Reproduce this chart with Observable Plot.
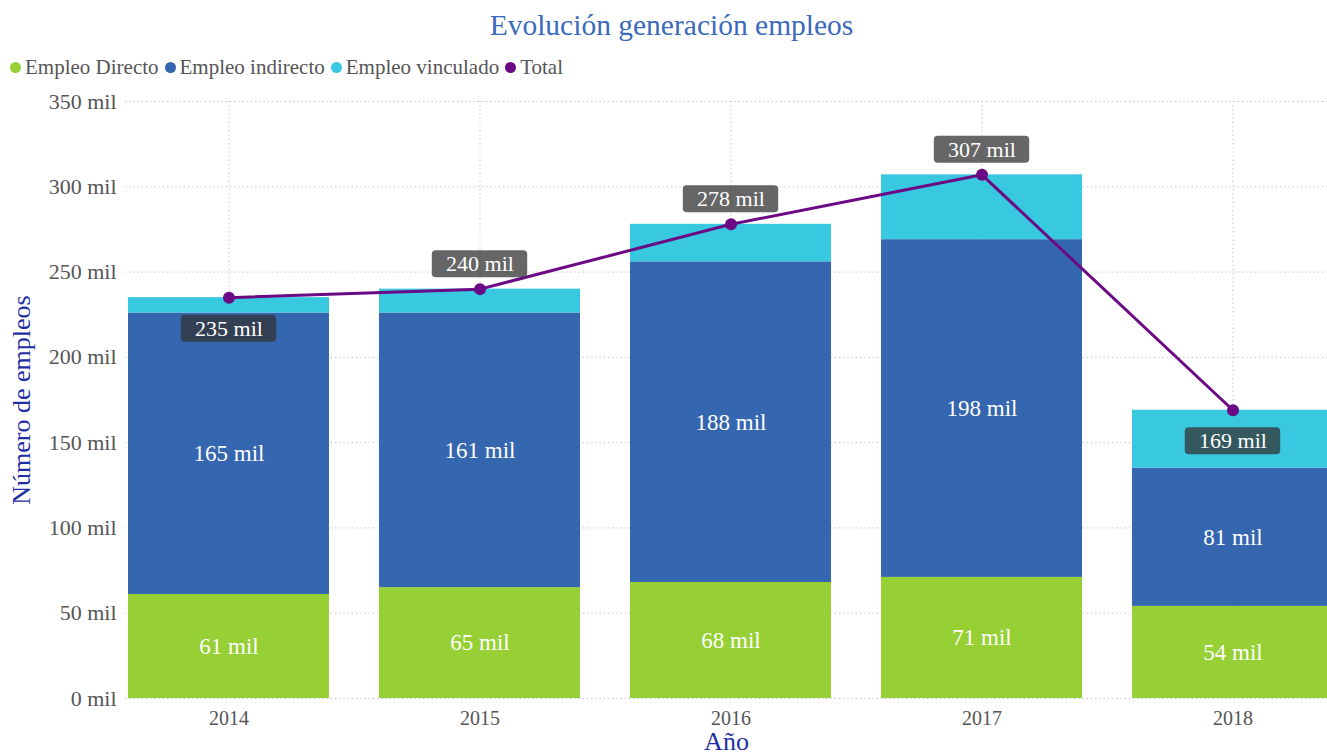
<!DOCTYPE html>
<html><head><meta charset="utf-8">
<script src="https://cdn.jsdelivr.net/npm/d3@7"></script>
<script src="https://cdn.jsdelivr.net/npm/@observablehq/plot@0.6"></script>
<style>
body{margin:0;width:1327px;height:755px;overflow:hidden;background:#fff;font-family:"Liberation Serif",serif;position:relative}
#title{position:absolute;top:9px;left:8px;width:1327px;text-align:center;font-size:29.5px;color:#3b6abb}
#legend{position:absolute;top:55px;left:10px;font-size:21px;color:#555;white-space:nowrap}
#legend span.item{margin-right:6px}
#legend span.dot{display:inline-block;width:11px;height:11px;border-radius:50%;margin-right:4px;vertical-align:1px}
#chart{position:absolute;top:85px;left:0}
#chart svg{max-width:none;overflow:hidden}
g[aria-label="y-axis label"] text, g[aria-label="x-axis label"] text{fill:#1f2fa3;font-size:26px}
</style>
</head><body>
<div id="title"></div>
<div id="legend"></div>
<div id="chart"></div>
<script>
const years = ["2014","2015","2016","2017","2018"];
const empleoDirecto = [61,65,68,71,54];
const empleoIndirecto = [165,161,188,198,81];
const empleoVinculado = [9,14,22,38,34];
const total = [235,240,278,307,169];
const seriesNames = ["Empleo Directo","Empleo indirecto","Empleo vinculado"];
const seriesColors = ["#96d035","#3566b0","#38c8e0"];
const totalName = "Total";
const totalColor = "#6b0a84";
const yTicks = [0,50,100,150,200,250,300,350];
const titleText = "Evolución generación empleos";
const xLabel = "Año";
const yLabel = "Número de empleos";

document.getElementById("title").textContent = titleText;
const leg = document.getElementById("legend");
[...seriesNames, totalName].forEach((n,i)=>{
  const c = i < seriesNames.length ? seriesColors[i] : totalColor;
  const s = document.createElement("span"); s.className="item";
  s.innerHTML = `<span class="dot" style="background:${c}"></span>${n}`;
  leg.appendChild(s);
});

const seriesValues = [empleoDirecto, empleoIndirecto, empleoVinculado];
const rows = [];
years.forEach((y,i)=>seriesNames.forEach((s,j)=>rows.push({year:y, serie:s, value:seriesValues[j][i]})));
const totRows = years.map((y,i)=>({year:y, total:total[i]}));
const below = new Set(["2014","2018"]);
const totAbove = totRows.filter(d=>!below.has(d.year));
const totBelow = totRows.filter(d=>below.has(d.year));

const bw = 252*0.8, boxW = 96;
const boxInset = (bw-boxW)/2;
function boxes(data, dy){
  return Plot.barY(data, {x:"year", y1:"total", y2:"total", insetLeft:boxInset, insetRight:boxInset,
    insetTop:-13.5, insetBottom:-13.5, dy, fill:"#333", fillOpacity:0.75, rx:4});
}
function labels(data, dy){
  return Plot.text(data, {x:"year", y:"total", text:d=>d.total+" mil", dy, fill:"white", fontSize:22});
}

const chart = Plot.plot({
  width:1327, height:670,
  marginLeft:125, marginRight:0, marginTop:16, marginBottom:57,
  style:{fontFamily:"'Liberation Serif', serif", background:"white"},
  x:{domain:years, range:[123,1338.6], paddingInner:0.2, paddingOuter:0.012, label:null},
  y:{domain:[0,350], label:null},
  color:{domain:seriesNames, range:seriesColors},
  marks:[
    Plot.gridY(yTicks, {stroke:"#bbb", strokeOpacity:1, strokeDasharray:"1.2,3"}),
    Plot.gridX(years, {stroke:"#bbb", strokeOpacity:1, strokeDasharray:"1.2,3"}),
    Plot.axisY({ticks:yTicks, tickSize:0, tickPadding:9, tickFormat:d=>d+" mil", color:"#555",
      label:yLabel, labelAnchor:"center", labelOffset:114, fontSize:22}),
    Plot.axisX({tickSize:0, tickPadding:12, fontSize:20, color:"#555", label:xLabel, labelAnchor:"center", labelOffset:51}),
    Plot.barY(rows, {x:"year", y:"value", fill:"serie", z:"serie"}),
    Plot.text(rows.filter(d=>d.serie!==seriesNames[2]), Plot.stackY({x:"year", y:"value", z:"serie", text:d=>d.value+" mil", fill:"white", fontSize:23})),
    Plot.line(totRows, {x:"year", y:"total", stroke:totalColor, strokeWidth:3}),
    Plot.dot(totRows, {x:"year", y:"total", fill:totalColor, r:6}),
    boxes(totAbove, -25), boxes(totBelow, 31),
    labels(totAbove, -25), labels(totBelow, 31)
  ]
});
document.getElementById("chart").appendChild(chart);
const yl = chart.querySelector('g[aria-label="y-axis label"] text');
if (yl) { yl.textContent = yLabel; }
const xl = chart.querySelector('g[aria-label="x-axis label"] text');
if (xl) { xl.textContent = xLabel; }
</script>
</body></html>
